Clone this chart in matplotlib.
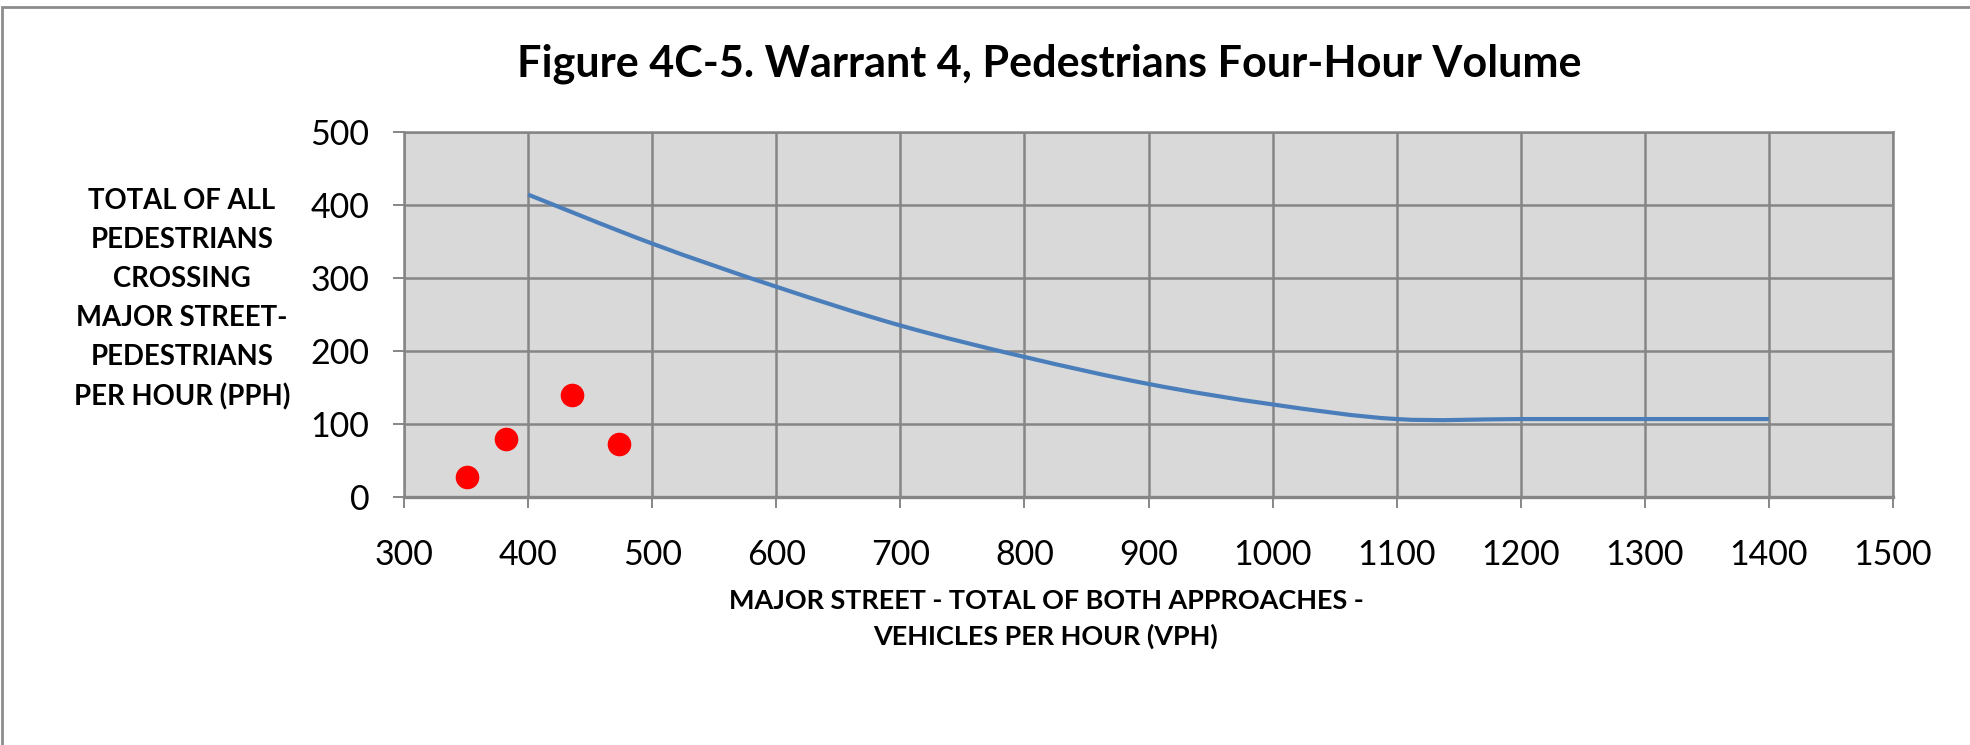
import matplotlib
matplotlib.use("Agg")
import matplotlib.pyplot as plt
from matplotlib.path import Path
from matplotlib.patches import PathPatch, Rectangle

# ---- data ----
title = "Figure 4C-5. Warrant 4, Pedestrians Four-Hour Volume"
x_label = "MAJOR STREET - TOTAL OF BOTH APPROACHES -\nVEHICLES PER HOUR (VPH)"
y_label = "TOTAL OF ALL\nPEDESTRIANS\nCROSSING\nMAJOR STREET-\nPEDESTRIANS\nPER HOUR (PPH)"
x_ticks = [300, 400, 500, 600, 700, 800, 900, 1000, 1100, 1200, 1300, 1400, 1500]
y_ticks = [0, 100, 200, 300, 400, 500]
curve_x = [400, 500, 600, 700, 800, 900, 1000, 1100, 1200, 1300, 1400]
curve_y = [414, 347, 288, 235, 192, 155, 127, 107, 107, 107, 107]
obs_x = [351, 382, 435, 473]
obs_y = [28, 80, 140, 73]

W, H = 1970, 745
fig = plt.figure(figsize=(W / 100, H / 100), dpi=100)
FONT = "Lato"

ax = fig.add_axes([404 / W, 1 - 497.3 / H, (1893 - 404) / W, (497.3 - 131.7) / H])
ax.set_facecolor("#d9d9d9")
ax.set_xlim(300, 1500)
ax.set_ylim(0, 500)
ax.set_xticks(x_ticks)
ax.set_yticks(y_ticks)
ax.set_xticklabels([str(v) for v in x_ticks], fontfamily=FONT, fontsize=24.5)
ax.set_yticklabels([str(v) for v in y_ticks], fontfamily=FONT, fontsize=24.5)
gc = "#868686"
ax.grid(True, color=gc, lw=1.8, zorder=1)
ax.set_axisbelow(True)
for s in ax.spines.values():
    s.set_color(gc)
    s.set_linewidth(1.8)
ax.spines["bottom"].set_linewidth(2.4)
ax.tick_params(axis="x", direction="out", length=8, width=1.4, color=gc, pad=22)
ax.tick_params(axis="y", direction="out", length=8, width=1.4, color=gc, pad=17)

# Excel-style smoothed line (Catmull-Rom Bezier through data points)
pts = list(zip(curve_x, curve_y))
verts = [pts[0]]
codes = [Path.MOVETO]
n = len(pts)
for i in range(n - 1):
    p0 = pts[i - 1] if i > 0 else pts[i]
    p1 = pts[i]
    p2 = pts[i + 1]
    p3 = pts[i + 2] if i + 2 < n else pts[i + 1]
    c1 = (p1[0] + (p2[0] - p0[0]) / 6, p1[1] + (p2[1] - p0[1]) / 6)
    c2 = (p2[0] - (p3[0] - p1[0]) / 6, p2[1] - (p3[1] - p1[1]) / 6)
    verts += [c1, c2, p2]
    codes += [Path.CURVE4] * 3
ax.add_patch(PathPatch(Path(verts, codes), fill=False, edgecolor="#4a7ebb",
                       lw=3.0, zorder=3, capstyle="butt"))

ax.plot(obs_x, obs_y, "o", color="#ff0000", markersize=17, markeredgewidth=0, zorder=4)

# texts
t_title = fig.text(1049 / W, 1 - 64 / H, title, ha="center", va="center",
                   fontfamily=FONT, fontweight="bold", fontsize=28)
t_y = fig.text(182 / W, 1 - 299 / H, y_label, ha="center", va="center",
               fontfamily=FONT, fontweight="bold", fontsize=20, linespacing=1.62,
               multialignment="center")
t_x = fig.text(1046 / W, 1 - 619 / H, x_label, ha="center", va="center",
               fontfamily=FONT, fontweight="bold", fontsize=20, linespacing=1.55,
               multialignment="center")

# outer chart border
fig.add_artist(Rectangle((2 / W, -0.2), 1.2, 1.2 - 7 / H, transform=fig.transFigure,
                         fill=False, edgecolor="#8c8c8c", lw=2.0))

# fit text widths to reference measurements
fig.canvas.draw()
r = fig.canvas.get_renderer()
def fit(t, target):
    w = t.get_window_extent(r).width
    t.set_fontsize(t.get_fontsize() * target / w)

fit(t_title, 1065)
fit(t_y, 216)
fit(t_x, 637)

fig.savefig("out.png", dpi=100)
